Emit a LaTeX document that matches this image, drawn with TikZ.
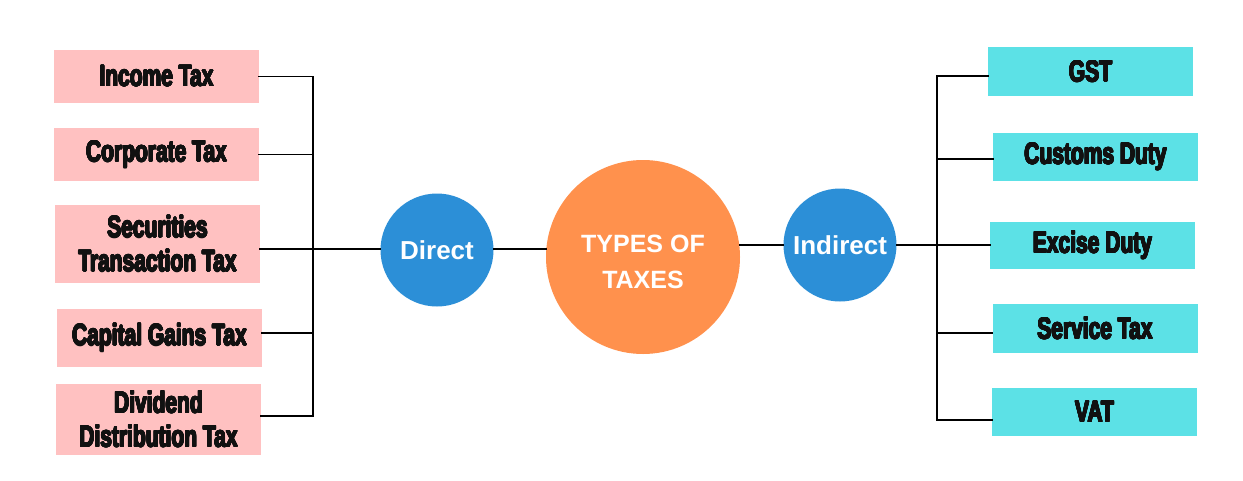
\documentclass[tikz,border=0pt]{standalone}
\usepackage{fontspec}
\usepackage[copies]{contour}
\contourlength{0.55pt}
\contournumber{16}
\setmainfont{Liberation Sans}
\newfontfamily\boxfont{Liberation Sans}[UprightFont=* Bold, FakeStretch=0.70]
\definecolor{pinkbox}{HTML}{FFC1C1}
\definecolor{cyanbox}{HTML}{5CE1E6}
\definecolor{bluec}{HTML}{2C8FD7}
\definecolor{orangec}{HTML}{FF914D}
\definecolor{boxtext}{HTML}{111111}
\newcommand{\heavy}[1]{\contour{boxtext}{#1}}
\begin{document}
\begin{tikzpicture}[x=1pt,y=-1pt,
  pbox/.style={rectangle, fill=pinkbox, minimum width=205pt, inner sep=0pt, align=center,
    font=\boxfont\fontsize{30}{34}\selectfont, text=boxtext},
  cbox/.style={rectangle, fill=cyanbox, minimum width=205pt, minimum height=48pt, inner sep=0pt, align=center,
    font=\boxfont\fontsize{30}{34}\selectfont, text=boxtext},
  bcirc/.style={circle, fill=bluec, minimum size=113pt, inner sep=0pt, text=white,
    font=\bfseries\fontsize{26}{30}\selectfont},
  ocirc/.style={circle, fill=orangec, minimum size=194pt, inner sep=0pt, text=white, align=center,
    font=\bfseries\fontsize{25}{36}\selectfont},
  conn/.style={draw=black, line width=1.7pt, line cap=rect}
]
\useasboundingbox (0,0) rectangle (1243,480);
\fill[white] (0,0) rectangle (1243,480);

% left boxes
\node[pbox, minimum height=53pt] (inc) at (156.5,76.5) {\heavy{Income Tax}};
\node[pbox, minimum height=53pt] (corp) at (156.5,154.5) {\heavy{Corporate Tax}};
\node[pbox, minimum height=78pt] (sec) at (157.5,244) {\heavy{Securities}\\\heavy{Transaction Tax}};
\node[pbox, minimum height=58pt] (cap) at (159.5,338) {\heavy{Capital Gains Tax}};
\node[pbox, minimum height=71pt] (div) at (158.5,419.5) {\heavy{Dividend}\\\heavy{Distribution Tax}};

% right boxes
\node[cbox, minimum height=49pt] (gst) at (1090.5,71.5) {\heavy{GST}};
\node[cbox] (cus) at (1095.5,157) {\heavy{Customs Duty}};
\node[cbox, minimum height=47pt] (exc) at (1092.5,245.5) {\heavy{Excise Duty}};
\node[cbox, minimum height=49pt] (ser) at (1095,328.5) {\heavy{Service Tax}};
\node[cbox] (vat) at (1094.5,412) {\heavy{VAT}};

% circles
\node[bcirc] (direct) at (437,250) {Direct};
\node[ocirc] (types) at (643,257) {\rule{0pt}{28pt}TYPES OF\\TAXES};
\node[bcirc] (indirect) at (840,245) {Indirect};

\coordinate (lbus) at (313,0);
\coordinate (rbus) at (937,0);

% left connectors
\draw[conn] (inc.east) -- (inc.east -| lbus);
\draw[conn] (corp.east) -- (corp.east -| lbus);
\draw[conn] ([yshift=5pt]cap.east) -- ([yshift=5pt]cap.east -| lbus);
\draw[conn] ([yshift=3.5pt]div.east) -- ([yshift=3.5pt]div.east -| lbus);
\draw[conn] (inc.east -| lbus) -- ([yshift=3.5pt]div.east -| lbus);
\draw[conn] ([yshift=1pt]direct.west -| sec.east) -- ([yshift=1pt]direct.west);
\draw[conn] ([yshift=1pt]direct.east) -- ([yshift=1pt]direct.east -| types.west);

% right connectors
\draw[conn] (indirect.west) -- (indirect.west -| types.east);
\draw[conn] (indirect.east) -- (indirect.east -| exc.west);
\draw[conn] ([yshift=-4.5pt]gst.west) -- ([yshift=-4.5pt]gst.west -| rbus);
\draw[conn] ([yshift=-2pt]cus.west) -- ([yshift=-2pt]cus.west -| rbus);
\draw[conn] ([yshift=-4.5pt]ser.west) -- ([yshift=-4.5pt]ser.west -| rbus);
\draw[conn] ([yshift=-8pt]vat.west) -- ([yshift=-8pt]vat.west -| rbus);
\draw[conn] ([yshift=-4.5pt]gst.west -| rbus) -- ([yshift=-8pt]vat.west -| rbus);
\end{tikzpicture}
\end{document}
